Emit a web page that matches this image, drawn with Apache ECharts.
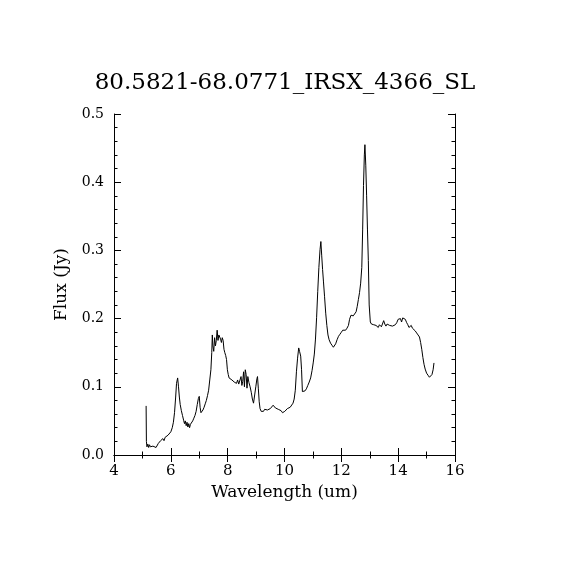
<!DOCTYPE html>
<html>
<head>
<meta charset="utf-8">
<script src="https://cdn.jsdelivr.net/npm/echarts@6/dist/echarts.min.js"></script>
<style>html,body{margin:0;padding:0;background:#fff;}#c{width:570px;height:570px;}</style>
</head>
<body>
<div id="c"></div>
<script>
var titleText = "80.5821-68.0771_IRSX_4366_SL";
var xName = "Wavelength (um)";
var yName = "Flux (Jy)";
var xTicks = [4, 6, 8, 10, 12, 14, 16];
var yTicks = [0.0, 0.1, 0.2, 0.3, 0.4, 0.5];
var wavelength = [
5.13,5.14,5.16,5.19,5.22,5.25,5.28,5.31,5.34,5.37,5.40,5.44,5.48,5.52,5.56,5.60,5.64,5.68,5.72,5.76,
5.80,5.85,5.90,5.95,6.00,6.05,6.09,6.13,6.17,6.20,6.24,6.27,6.30,6.33,6.37,6.41,6.45,6.48,6.51,6.54,
6.57,6.60,6.63,6.66,6.69,6.73,6.77,6.81,6.85,6.89,6.93,6.97,7.00,7.03,7.06,7.09,7.13,7.17,7.21,7.25,
7.29,7.33,7.37,7.41,7.44,7.46,7.48,7.51,7.54,7.57,7.60,7.63,7.66,7.69,7.72,7.75,7.78,7.81,7.84,7.87,
7.90,7.93,7.96,7.99,8.02,8.05,8.08,8.11,8.15,8.19,8.23,8.27,8.31,8.35,8.39,8.43,8.47,8.50,8.53,8.56,
8.59,8.62,8.65,8.68,8.71,8.75,8.79,8.83,8.87,8.91,8.95,8.99,9.03,9.05,9.08,9.11,9.14,9.18,9.22,9.26,
9.30,9.35,9.40,9.45,9.50,9.55,9.60,9.64,9.68,9.73,9.78,9.83,9.88,9.93,9.97,10.01,10.05,10.10,10.15,10.20,
10.25,10.30,10.34,10.38,10.42,10.46,10.50,10.53,10.57,10.60,10.63,10.68,10.72,10.77,10.82,10.87,10.92,10.97,11.01,11.05,
11.09,11.13,11.17,11.21,11.25,11.28,11.31,11.34,11.37,11.41,11.45,11.49,11.53,11.57,11.62,11.67,11.72,11.76,11.80,11.85,
11.90,11.95,12.00,12.05,12.10,12.15,12.20,12.25,12.29,12.34,12.38,12.42,12.47,12.52,12.56,12.60,12.64,12.68,12.72,12.75,
12.78,12.81,12.83,12.86,12.89,12.92,12.95,12.98,13.02,13.06,13.10,13.14,13.18,13.22,13.26,13.30,13.34,13.38,13.41,13.45,
13.49,13.53,13.57,13.61,13.65,13.70,13.75,13.80,13.85,13.90,13.95,14.00,14.04,14.08,14.12,14.16,14.20,14.25,14.30,14.34,
14.38,14.42,14.46,14.50,14.55,14.60,14.65,14.70,14.75,14.79,14.83,14.87,14.91,14.95,15.00,15.05,15.10,15.15,15.19,15.23,
15.26
];
var flux = [
0.072,0.020,0.012,0.016,0.011,0.015,0.012,0.013,0.010,0.013,0.011,0.011,0.011,0.013,0.017,0.016,0.021,0.019,0.024,0.021,
0.026,0.027,0.029,0.031,0.034,0.040,0.048,0.062,0.085,0.105,0.113,0.100,0.085,0.074,0.065,0.058,0.051,0.046,0.050,0.043,
0.048,0.041,0.046,0.040,0.045,0.046,0.050,0.054,0.058,0.064,0.074,0.083,0.086,0.070,0.062,0.062,0.066,0.070,0.075,0.080,
0.087,0.095,0.110,0.125,0.150,0.176,0.160,0.152,0.172,0.160,0.168,0.183,0.168,0.176,0.178,0.170,0.165,0.172,0.168,0.155,
0.150,0.146,0.140,0.125,0.118,0.113,0.111,0.114,0.110,0.112,0.107,0.108,0.105,0.110,0.104,0.106,0.115,0.102,0.108,0.122,
0.100,0.125,0.118,0.098,0.115,0.106,0.100,0.092,0.082,0.076,0.088,0.100,0.112,0.115,0.097,0.078,0.068,0.064,0.066,0.064,
0.067,0.065,0.066,0.067,0.068,0.069,0.073,0.072,0.069,0.068,0.067,0.067,0.065,0.062,0.061,0.064,0.066,0.068,0.068,0.070,
0.072,0.076,0.082,0.095,0.122,0.142,0.157,0.152,0.145,0.125,0.093,0.093,0.094,0.097,0.102,0.107,0.113,0.124,0.135,0.148,
0.170,0.202,0.240,0.275,0.301,0.313,0.292,0.272,0.255,0.232,0.208,0.190,0.176,0.169,0.164,0.161,0.158,0.159,0.163,0.169,
0.174,0.177,0.180,0.183,0.185,0.183,0.186,0.190,0.199,0.205,0.207,0.204,0.206,0.210,0.218,0.228,0.238,0.252,0.275,0.330,
0.395,0.440,0.455,0.425,0.380,0.330,0.285,0.220,0.195,0.192,0.194,0.191,0.193,0.190,0.191,0.187,0.191,0.193,0.188,0.190,
0.197,0.192,0.189,0.192,0.192,0.190,0.191,0.189,0.189,0.191,0.194,0.199,0.201,0.200,0.195,0.201,0.201,0.199,0.194,0.191,
0.187,0.188,0.190,0.186,0.184,0.182,0.179,0.176,0.173,0.165,0.155,0.143,0.133,0.126,0.120,0.117,0.114,0.113,0.118,0.125,
0.135
];

var pts = wavelength.map(function (w, i) { return [w, flux[i]]; });
var chart = echarts.init(document.getElementById('c'), null, {renderer: 'canvas'});
var axisLine = {show: true, lineStyle: {color: '#000', width: 1}};
function xAx(pos, showLabel) {
  return {
    type: 'value', position: pos, min: xTicks[0], max: xTicks[xTicks.length - 1], interval: xTicks[1] - xTicks[0],
    axisLine: axisLine,
    axisTick: {show: true, inside: true, length: 7, lineStyle: {color: '#000', width: 1}},
    minorTick: {show: true, splitNumber: 2, length: 3.5, lineStyle: {color: '#000', width: 1}},
    splitLine: {show: false},
    axisLabel: {show: showLabel, color: '#000', fontFamily: 'DejaVu Serif', fontSize: 15, margin: 9},
    name: showLabel ? xName : '', nameLocation: 'middle', nameGap: 29,
    nameTextStyle: {color: '#000', fontFamily: 'DejaVu Serif', fontSize: 17}
  };
}
function yAx(pos, showLabel) {
  return {
    type: 'value', position: pos, min: yTicks[0], max: yTicks[yTicks.length - 1], interval: yTicks[1] - yTicks[0],
    axisLine: axisLine,
    axisTick: {show: true, inside: true, length: 7, lineStyle: {color: '#000', width: 1}},
    minorTick: {show: true, splitNumber: 5, length: 3.5, lineStyle: {color: '#000', width: 1}},
    splitLine: {show: false},
    axisLabel: {show: showLabel, color: '#000', fontFamily: 'DejaVu Serif', fontSize: 14, margin: 10,
      formatter: function (v) { return v.toFixed(1); }},
    name: showLabel ? yName : '', nameLocation: 'middle', nameGap: 44,
    nameTextStyle: {color: '#000', fontFamily: 'DejaVu Serif', fontSize: 17}
  };
}
chart.setOption({
  animation: false,
  backgroundColor: '#fff',
  title: {text: titleText, left: 'center', top: 67,
    textStyle: {color: '#000', fontFamily: 'DejaVu Serif', fontWeight: 'normal', fontSize: 23}},
  grid: {left: 114, right: 115, top: 114, bottom: 115, containLabel: false},
  xAxis: [xAx('bottom', true), xAx('top', false)],
  yAxis: [yAx('left', true), yAx('right', false)],
  series: [{
    type: 'line', data: pts, xAxisIndex: 0, yAxisIndex: 0,
    showSymbol: false, symbol: 'none', smooth: false,
    lineStyle: {color: '#000', width: 1}
  }]
});
</script>
</body>
</html>
